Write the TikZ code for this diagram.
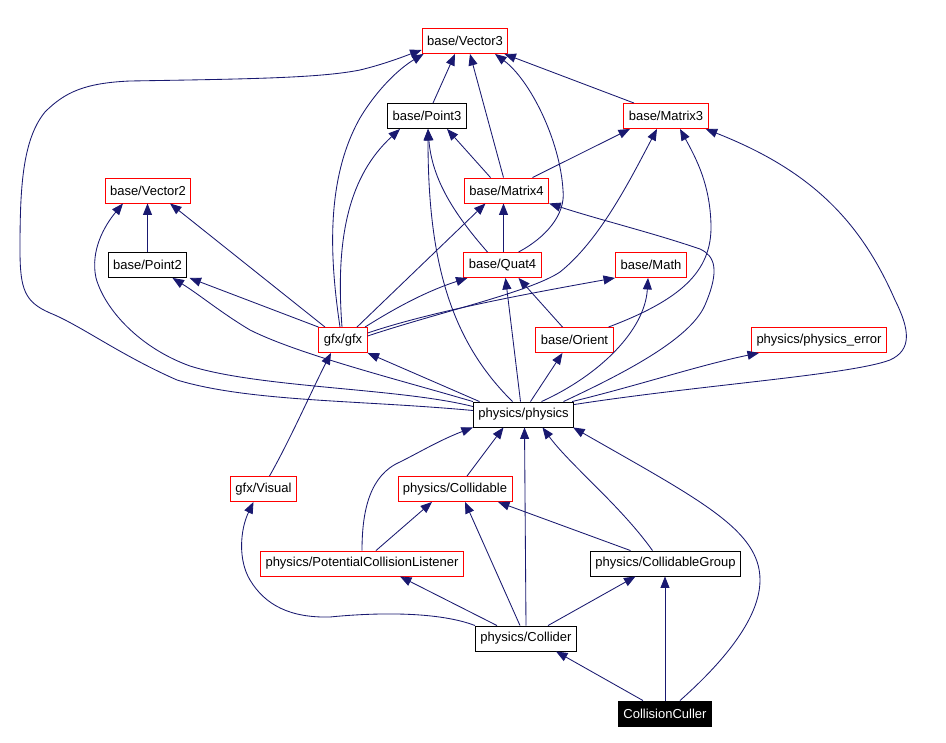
\documentclass[tikz,border=0pt]{standalone}
\usepackage{fontspec}
\setmainfont{Liberation Sans}
\usetikzlibrary{arrows.meta,calc}
\definecolor{navy}{RGB}{25,25,112}
\begin{document}
\begin{tikzpicture}[x=1pt,y=-1pt,
  nbox/.style={draw, fill=white, line width=0.9pt, minimum height=25pt, inner xsep=5pt, inner ysep=0pt, font=\fontsize{13}{15}\selectfont},
  rbox/.style={nbox, draw=red},
  bbox/.style={nbox, draw=black},
  cbox/.style={nbox, draw=black, fill=black, text=white},
  edge/.style={draw=navy, line width=0.85pt, -{Triangle[length=11.5pt,width=9pt]}, fill=none}]
\useasboundingbox (0,0) rectangle (946,743);
\fill[white] (0,0) rectangle (946,743);

\node[rbox] (v3) at (465,41) {base/Vector3};
\node[bbox] (p3) at (427,116) {base/Point3};
\node[rbox] (m3) at (666,116) {base/Matrix3};
\node[rbox] (v2) at (148,190.5) {base/Vector2};
\node[rbox] (m4) at (506.5,190.5) {base/Matrix4};
\node[bbox] (p2) at (147.5,265) {base/Point2};
\node[rbox] (q4) at (502.5,265) {base/Quat4};
\node[rbox] (mth) at (651,265) {base/Math};
\node[rbox] (gfx) at (343,340) {gfx/gfx};
\node[rbox] (ori) at (574.5,340) {base/Orient};
\node[rbox] (perr) at (819,340) {physics/physics\_error};
\node[bbox] (phys) at (523.5,414.5) {physics/physics};
\node[rbox] (vis) at (263.5,489) {gfx/Visual};
\node[rbox] (col) at (455,489) {physics/Collidable};
\node[rbox] (pcl) at (362,563.5) {physics/PotentialCollisionListener};
\node[bbox] (cg) at (665.5,563.5) {physics/CollidableGroup};
\node[bbox] (cdr) at (526,638.5) {physics/Collider};
\node[cbox] (cc) at (665,713.5) {CollisionCuller};

% to Vector3
\draw[edge] ([xshift=6pt]p3.north) -- ([xshift=-10pt]v3.south);
\draw[edge] ([xshift=-32pt]m3.north) -- ([xshift=-4pt]v3.south east);
\draw[edge] ([xshift=-3pt]m4.north) -- ([xshift=5pt]v3.south);
\draw[edge] ([xshift=16pt]q4.north) .. controls (545,238) and (566,215) .. (563,190) .. controls (560,140) and (530,80) .. ([xshift=30pt]v3.south);
\draw[edge] ([xshift=-3pt]gfx.north) .. controls (330,260) and (325,180) .. (360,118) .. controls (378,88) and (400,68) .. ([xshift=2pt]v3.south west);
\draw[edge] ([yshift=4pt]phys.west) .. controls (360,400) and (250,402) .. (177,380) .. controls (120,355) and (80,325) .. (50,313) .. controls (25,302) and (20,290) .. (20,250) .. controls (20,190) and (22,140) .. (45,112) .. controls (65,92) and (85,83) .. (130,81) .. controls (250,79) and (320,78) .. (360,70) .. controls (385,64) and (405,56) .. ([yshift=-9pt]v3.west);

% to Point3
\draw[edge] ([xshift=-1pt]gfx.north) .. controls (335,235) and (350,175) .. ([xshift=-27pt]p3.south);
\draw[edge] ([xshift=-16pt]m4.north) -- ([xshift=20pt]p3.south);
\draw[edge] ([xshift=-15pt]q4.north) .. controls (455,215) and (432,180) .. ([xshift=1pt]p3.south);
\draw[edge] ([xshift=-11pt]phys.north) .. controls (450,340) and (428,260) .. ([xshift=1pt]p3.south);

% to Matrix3
\draw[edge] ([xshift=26pt]m4.north) -- ([xshift=-36pt]m3.south);
\draw[edge] ([yshift=4pt]gfx.east) .. controls (440,312) and (530,292) .. (560,272) .. controls (600,240) and (630,180) .. ([xshift=-9pt]m3.south);
\draw[edge] ([xshift=34pt]ori.north) .. controls (680,300) and (712,272) .. (711,225) .. controls (710,185) and (697,160) .. ([xshift=14pt]m3.south);
\draw[edge] ([yshift=-3pt]phys.north east) .. controls (700,385) and (850,375) .. (890,360) .. controls (912,350) and (910,330) .. (895,300) .. controls (860,220) and (810,170) .. ([xshift=-3pt]m3.south east);

% to Matrix4
\draw[edge] ([xshift=1pt]q4.north) -- ([xshift=-3pt]m4.south);
\draw[edge] ([xshift=14pt]gfx.north) -- ([xshift=-21pt]m4.south);
\draw[edge] ([xshift=40pt]phys.north) .. controls (620,375) and (690,340) .. (705,305) .. controls (720,270) and (715,256) .. (700,249) .. controls (650,232) and (600,220) .. (m4.south east);

% to Vector2 / Point2
\draw[edge] (p2.north) -- (p2.north |- v2.south);
\draw[edge] ([xshift=-18pt]gfx.north) -- ([xshift=22pt]v2.south);
\draw[edge] (gfx.north west) -- ([xshift=42pt]p2.south);
\draw[edge] ([yshift=8pt]phys.west) .. controls (400,388) and (260,388) .. (190,366) .. controls (140,348) and (105,310) .. (96,278) .. controls (90,250) and (105,225) .. ([xshift=-25pt]v2.south);
\draw[edge] (phys.north west) .. controls (400,380) and (300,355) .. (250,330) .. controls (220,312) and (200,295) .. ([xshift=25pt]p2.south);

% to Quat4 / Math
\draw[edge] ([xshift=22pt]gfx.north) .. controls (400,305) and (430,290) .. ([xshift=-35pt]q4.south);
\draw[edge] ([yshift=7pt]gfx.east) .. controls (430,312) and (520,295) .. ([xshift=-36pt]mth.south);
\draw[edge] ([xshift=-3pt]phys.north) -- ([xshift=3pt]q4.south);
\draw[edge] ([xshift=-12pt]ori.north) -- ([xshift=16pt]q4.south);
\draw[edge] ([xshift=18pt]phys.north) .. controls (600,375) and (645,330) .. ([xshift=-3pt]mth.south);

% physics to others
\draw[edge] ([xshift=-44pt]phys.north) -- (gfx.south east);
\draw[edge] ([xshift=7pt]phys.north) -- ([xshift=-12pt]ori.south);
\draw[edge] ([xshift=-2pt]phys.north east) .. controls (640,385) and (700,365) .. ([xshift=-60pt]perr.south);

% lower part
\draw[edge] ([xshift=6pt]vis.north) .. controls (290,440) and (312,390) .. ([xshift=-12pt]gfx.south);
\draw[edge] (pcl.north) .. controls (362,510) and (370,475) .. (400,462) .. controls (420,452) and (440,440) .. (phys.south west);
\draw[edge] ([xshift=12pt]col.north) -- ([xshift=-20pt]phys.south);
\draw[edge] (cdr.north) -- ([xshift=1pt]phys.south);
\draw[edge] ([xshift=-13pt]cg.north) .. controls (620,505) and (570,465) .. ([xshift=19pt]phys.south);
\draw[edge] ([xshift=15pt]cc.north) .. controls (720,665) and (760,620) .. (760,580) .. controls (760,530) and (700,500) .. ([xshift=-1pt]phys.south east);
\draw[edge] ([xshift=14pt]pcl.north) -- ([xshift=-23pt]col.south);
\draw[edge] ([xshift=-6pt]cdr.north) -- ([xshift=10pt]col.south);
\draw[edge] ([xshift=-35pt]cg.north) -- ([xshift=43pt]col.south);
\draw[edge] (cdr.north west) .. controls (440,612) and (380,612) .. (330,617) .. controls (290,618) and (265,605) .. (250,580) .. controls (238,560) and (240,530) .. ([xshift=-10pt]vis.south);
\draw[edge] ([xshift=-29pt]cdr.north) -- ([xshift=38pt]pcl.south);
\draw[edge] ([xshift=22pt]cdr.north) -- ([xshift=-30pt]cg.south);
\draw[edge] ([xshift=-22pt]cc.north) -- ([xshift=30pt]cdr.south);
\draw[edge] (cc.north) -- (cc.north |- cg.south);
\end{tikzpicture}
\end{document}
